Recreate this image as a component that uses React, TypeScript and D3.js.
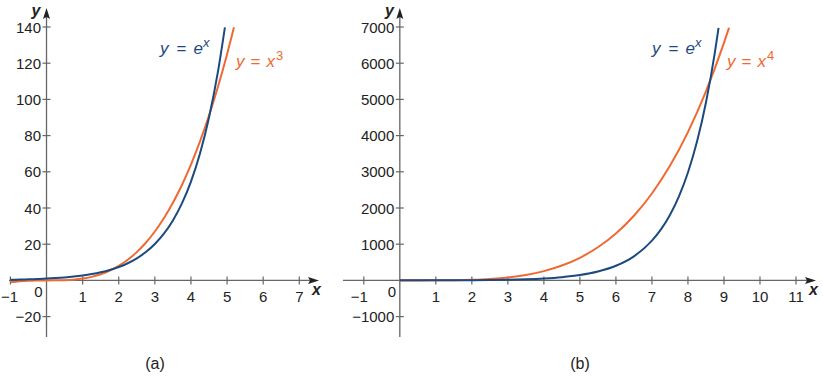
import React from "react";
import * as d3 from "d3";

// Panel (a): y = e^x and y = x^3
const aExpX = [-1, -0.75, -0.5, -0.25, 0, 0.25, 0.5, 0.75, 1, 1.25, 1.5, 1.75, 2, 2.25, 2.5, 2.75, 3, 3.25, 3.5, 3.75, 4, 4.25, 4.5, 4.75, 4.94];
const aExpY = [0.368, 0.472, 0.607, 0.779, 1, 1.284, 1.649, 2.117, 2.718, 3.49, 4.482, 5.755, 7.389, 9.488, 12.182, 15.643, 20.086, 25.79, 33.115, 42.521, 54.598, 70.105, 90.017, 115.584, 139.77];
const aCubeX = [-1, -0.75, -0.5, -0.25, 0, 0.25, 0.5, 0.75, 1, 1.25, 1.5, 1.75, 2, 2.25, 2.5, 2.75, 3, 3.25, 3.5, 3.75, 4, 4.25, 4.5, 4.75, 5, 5.19];
const aCubeY = [-1, -0.422, -0.125, -0.016, 0, 0.016, 0.125, 0.422, 1, 1.953, 3.375, 5.359, 8, 11.391, 15.625, 20.797, 27, 34.328, 42.875, 52.734, 64, 76.766, 91.125, 107.172, 125, 139.8];
const aXTicks = [-1, 1, 2, 3, 4, 5, 6, 7];
const aYTicks = [-20, 20, 40, 60, 80, 100, 120, 140];

// Panel (b): y = e^x and y = x^4
const bExpX = [0, 0.5, 1, 1.5, 2, 2.5, 3, 3.5, 4, 4.5, 5, 5.5, 6, 6.5, 7, 7.25, 7.5, 7.75, 8, 8.25, 8.5, 8.75, 8.85];
const bExpY = [1, 1.649, 2.718, 4.482, 7.389, 12.18, 20.09, 33.12, 54.6, 90.02, 148.41, 244.69, 403.43, 665.14, 1096.63, 1408.1, 1808.04, 2321.57, 2980.96, 3827.63, 4914.77, 6310.69, 6974.4];
const bQuartX = [0, 0.5, 1, 1.5, 2, 2.5, 3, 3.5, 4, 4.5, 5, 5.5, 6, 6.5, 7, 7.5, 8, 8.5, 9, 9.14];
const bQuartY = [0, 0.0625, 1, 5.0625, 16, 39.06, 81, 150.06, 256, 410.06, 625, 915.06, 1296, 1785.06, 2401, 3164.06, 4096, 5220.06, 6561, 6978.9];
const bXTicks = [-1, 1, 2, 3, 4, 5, 6, 7, 8, 9, 10, 11];
const bYTicks = [-1000, 1000, 2000, 3000, 4000, 5000, 6000, 7000];

const BLUE = "#1c4a80";
const ORANGE = "#ef6a32";
const AXIS = "#666";
const TEXT = "#222";
const FONT = "'Liberation Sans', Arial, sans-serif";

function fmt(v: number) {
  return v < 0 ? "\u2212" + Math.abs(v) : String(v);
}

type PanelProps = {
  xDomain: [number, number];
  xRange: [number, number];
  yDomain: [number, number];
  yRange: [number, number];
  xAxisStart: number;
  xAxisEnd: number;
  yAxisTop: number;
  yAxisBottom: number;
  xTicks: number[];
  yTicks: number[];
  series: { xs: number[]; ys: number[]; color: string }[];
  expLabel: [number, number];
  powLabel: [number, number];
  power: string;
  caption: string;
  captionX: number;
};

function Panel(p: PanelProps) {
  const x = d3.scaleLinear().domain(p.xDomain).range(p.xRange);
  const y = d3.scaleLinear().domain(p.yDomain).range(p.yRange);
  const x0 = x(0);
  const y0 = y(0);
  const line = d3
    .line<[number, number]>()
    .x((d) => x(d[0]))
    .y((d) => y(d[1]))
    .curve(d3.curveMonotoneX);
  return (
    <g>
      {/* x axis */}
      <line x1={p.xAxisStart} x2={p.xAxisEnd - 8} y1={y0} y2={y0} stroke={AXIS} strokeWidth={1.3} />
      <path d={`M${p.xAxisEnd},${y0} L${p.xAxisEnd - 11},${y0 - 3.5} L${p.xAxisEnd - 9},${y0} L${p.xAxisEnd - 11},${y0 + 3.5} Z`} fill="#222" />
      {/* y axis */}
      <line x1={x0} x2={x0} y1={p.yAxisTop + 8} y2={p.yAxisBottom} stroke={AXIS} strokeWidth={1.3} />
      <path d={`M${x0},${p.yAxisTop} L${x0 - 3.5},${p.yAxisTop + 11} L${x0},${p.yAxisTop + 9} L${x0 + 3.5},${p.yAxisTop + 11} Z`} fill="#222" />
      {p.xTicks.map((t) => (
        <g key={"xt" + t}>
          <line x1={x(t)} x2={x(t)} y1={y0 - 4} y2={y0 + 4} stroke={AXIS} strokeWidth={1.2} />
          <text
            x={t < 0 ? Math.max(x(t) + 4, 18) : x(t)}
            y={y0 + 22}
            textAnchor={t < 0 ? "end" : "middle"}
            fontSize={15}
            fontFamily={FONT}
            fill={TEXT}
          >
            {fmt(t)}
          </text>
        </g>
      ))}
      <text x={x0 - 8} y={y0 + 17} textAnchor="middle" fontSize={15} fontFamily={FONT} fill={TEXT}>
        0
      </text>
      {p.yTicks.map((t) => (
        <g key={"yt" + t}>
          <line x1={x0 - 4} x2={x0 + 4} y1={y(t)} y2={y(t)} stroke={AXIS} strokeWidth={1.2} />
          <text x={x0 - 5.5} y={y(t) + 5.5} textAnchor="end" fontSize={15} fontFamily={FONT} fill={TEXT}>
            {fmt(t)}
          </text>
        </g>
      ))}
      <text x={x0 - 6} y={16} textAnchor="end" fontSize={16} fontStyle="italic" fontWeight="bold" fontFamily={FONT} fill="#222">
        y
      </text>
      <text x={p.xAxisEnd - 7} y={295} textAnchor="start" fontSize={16} fontStyle="italic" fontWeight="bold" fontFamily={FONT} fill="#222">
        x
      </text>
      {p.series.map((s, i) => (
        <path
          key={"s" + i}
          d={line(s.xs.map((v, j) => [v, s.ys[j]] as [number, number])) || ""}
          fill="none"
          stroke={s.color}
          strokeWidth={2}
        />
      ))}
      <text x={p.expLabel[0]} y={p.expLabel[1]} fontSize={17} fontFamily={FONT} fill={BLUE}>
        <tspan fontStyle="italic">y</tspan>
        <tspan dx={8}>=</tspan>
        <tspan dx={7} fontStyle="italic">e</tspan>
        <tspan fontStyle="italic" fontSize={13} dy={-7}>x</tspan>
      </text>
      <text x={p.powLabel[0]} y={p.powLabel[1]} fontSize={17} fontFamily={FONT} fill={ORANGE}>
        <tspan fontStyle="italic">y</tspan>
        <tspan dx={6}>=</tspan>
        <tspan dx={6} fontStyle="italic">x</tspan>
        <tspan fontSize={13} dy={-7} dx={1}>{p.power}</tspan>
      </text>
      <text x={p.captionX} y={369} textAnchor="middle" fontSize={16} fontFamily={FONT} fill={TEXT}>
        {p.caption}
      </text>
    </g>
  );
}

export default function App() {
  return (
    <svg
      width={823}
      height={380}
      style={{ position: "absolute", left: 0, top: 0, background: "#fff" }}
    >
      <rect width={823} height={380} fill="#fff" />
      <Panel
        xDomain={[-1, 7]}
        xRange={[10.4, 299.3]}
        yDomain={[-20, 140]}
        yRange={[316.6, 27]}
        xAxisStart={9}
        xAxisEnd={319}
        yAxisTop={8}
        yAxisBottom={337}
        xTicks={aXTicks}
        yTicks={aYTicks}
        series={[
          { xs: aCubeX, ys: aCubeY, color: ORANGE },
          { xs: aExpX, ys: aExpY, color: BLUE },
        ]}
        expLabel={[160, 54]}
        powLabel={[236, 67]}
        power="3"
        caption="(a)"
        captionX={155}
      />
      <Panel
        xDomain={[-1, 11]}
        xRange={[363.8, 796]}
        yDomain={[-1000, 7000]}
        yRange={[316.6, 27]}
        xAxisStart={343}
        xAxisEnd={816}
        yAxisTop={8}
        yAxisBottom={337}
        xTicks={bXTicks}
        yTicks={bYTicks}
        series={[
          { xs: bQuartX, ys: bQuartY, color: ORANGE },
          { xs: bExpX, ys: bExpY, color: BLUE },
        ]}
        expLabel={[652, 54]}
        powLabel={[727, 67]}
        power="4"
        caption="(b)"
        captionX={580}
      />
    </svg>
  );
}
